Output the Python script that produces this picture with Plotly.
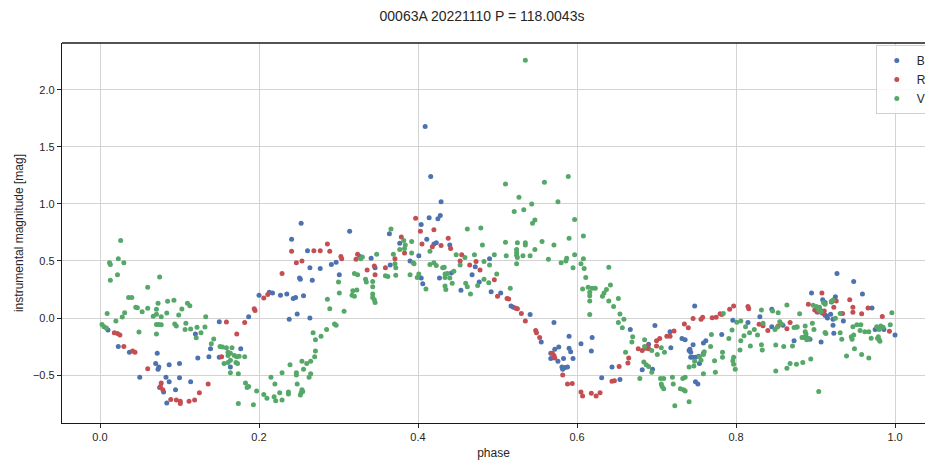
import plotly.graph_objects as go

title_text = "00063A 20221110 P = 118.0043s"
x_label = "phase"
y_label = "instrumental magnitude [mag]"
series_names = ["B", "R", "V"]
series_colors = ["#4C72B0", "#C44E52", "#55A868"]
x_ticks = [0.0, 0.2, 0.4, 0.6, 0.8, 1.0]
y_ticks = [-0.5, 0.0, 0.5, 1.0, 1.5, 2.0]

b_phase = [0.150, 0.010, 0.120, 0.023, 0.037, 0.072, 0.123, 0.137, 0.139, 0.150, 0.070, 0.073, 0.074, 0.087, 0.100,
           0.050, 0.083, 0.087, 0.100, 0.114, 0.075, 0.080, 0.095, 0.084,
           0.253, 0.241, 0.261, 0.314, 0.264, 0.277, 0.291, 0.297, 0.251, 0.252, 0.267, 0.301, 0.200, 0.213, 0.217,
           0.227, 0.235, 0.243, 0.246, 0.256, 0.187, 0.238, 0.248, 0.264, 0.177, 0.164, 0.327,
           0.409, 0.416, 0.429, 0.428, 0.425, 0.414, 0.404, 0.411, 0.420, 0.423, 0.440, 0.364, 0.377, 0.390, 0.401,
           0.365, 0.341, 0.346, 0.404, 0.406, 0.427, 0.442, 0.468, 0.454, 0.472, 0.477, 0.490, 0.492,
           0.504, 0.517, 0.520, 0.541, 0.571, 0.590, 0.555, 0.567, 0.572, 0.577, 0.567, 0.576, 0.583, 0.590, 0.592,
           0.595, 0.581, 0.585, 0.588, 0.582, 0.605, 0.618, 0.619, 0.631, 0.644, 0.654, 0.667,
           0.748, 0.796, 0.815, 0.830, 0.698, 0.717, 0.732, 0.736, 0.746, 0.742, 0.741, 0.743, 0.759, 0.762, 0.782,
           0.718, 0.690, 0.682, 0.695, 0.743, 0.746, 0.749, 0.753, 0.759, 0.754, 0.749, 0.752,
           0.927, 0.948, 0.959, 0.895, 0.909, 0.912, 0.925, 0.923, 0.920, 0.902, 0.906, 0.908, 0.912, 0.914, 0.915,
           0.919, 0.922, 0.935, 0.922, 0.923, 0.845, 0.845, 0.859, 0.873, 0.893, 0.907, 0.971, 0.975, 0.986, 1.000]
b_mag = [-0.032, -0.105, -0.14, -0.25, -0.30, -0.31, -0.35, -0.34, -0.27, -0.345, -0.40, -0.45, -0.43, -0.41, -0.40,
         -0.52, -0.52, -0.56, -0.525, -0.56, -0.61, -0.65, -0.63, -0.745,
         0.83, 0.69, 0.59, 0.76, 0.44, 0.435, 0.47, 0.49, 0.35, 0.34, 0.33, 0.38, 0.20, 0.225, 0.22,
         0.20, 0.21, 0.17, 0.18, 0.195, 0.01, -0.01, 0.035, 0.0, -0.27, -0.43, 0.54,
         1.68, 1.24, 1.02, 0.90, 0.87, 0.88, 0.82, 0.69, 0.65, 0.66, 0.64, 0.74, 0.655, 0.50, 0.545,
         0.465, 0.525, 0.44, 0.35, 0.30, 0.35, 0.395, 0.38, 0.243, 0.45, 0.315, 0.52, 0.23,
         0.22, 0.105, 0.094, 0.03, -0.04, -0.16, -0.21, -0.31, -0.275, -0.255, -0.355, -0.38, -0.355, -0.265, -0.295,
         -0.355, -0.43, -0.435, -0.43, -0.45, -0.225, -0.29, -0.17, -0.525, -0.43, -0.54, -0.10,
         0.105, -0.02, -0.04, 0.01, -0.065, -0.12, -0.18, -0.19, -0.235, -0.275, -0.285, -0.30, -0.22, -0.20, -0.145,
         -0.26, -0.23, -0.455, -0.45, -0.345, -0.345, -0.345, -0.335, -0.31, -0.40, -0.56, -0.58,
         0.39, 0.32, 0.21, 0.22, 0.16, 0.135, 0.187, 0.16, 0.14, 0.053, 0.07, 0.046, 0.024, 0.018, 0.0,
         0.032, -0.012, -0.026, -0.064, -0.134, 0.076, -0.076, -0.064, -0.20, -0.187, -0.21, 0.088, -0.10, -0.10, -0.15]

r_phase = [0.018, 0.022, 0.025, 0.030, 0.041, 0.044, 0.060, 0.077, 0.076, 0.079, 0.089, 0.096, 0.101, 0.101, 0.112,
           0.119, 0.125, 0.136, 0.159, 0.153,
           0.286, 0.241, 0.269, 0.277, 0.289, 0.247, 0.254, 0.303, 0.304, 0.322, 0.324, 0.229, 0.206, 0.211, 0.194,
           0.195, 0.182, 0.172,
           0.397, 0.403, 0.420, 0.379, 0.405, 0.418, 0.429, 0.438, 0.441, 0.383, 0.371, 0.345, 0.359, 0.336, 0.346,
           0.455, 0.453, 0.465, 0.473, 0.478, 0.496, 0.500,
           0.512, 0.514, 0.523, 0.525, 0.530, 0.535, 0.548, 0.549, 0.553, 0.569, 0.571, 0.572, 0.582, 0.588, 0.594,
           0.605, 0.607, 0.618, 0.624, 0.629, 0.644, 0.647, 0.653, 0.664, 0.665,
           0.746, 0.756, 0.758, 0.770, 0.775, 0.780, 0.782, 0.792, 0.797, 0.815, 0.816, 0.829, 0.834, 0.840, 0.735,
           0.740, 0.722, 0.717, 0.713, 0.704, 0.700, 0.700, 0.677, 0.682, 0.686, 0.689, 0.690,
           0.908, 0.891, 0.899, 0.901, 0.903, 0.911, 0.910, 0.926, 0.923, 0.943, 0.947, 0.947, 0.958, 0.966, 0.984,
           0.993, 0.934, 0.868, 0.876, 0.864, 0.853]
r_mag = [-0.129, -0.135, -0.15, -0.25, -0.29, -0.30, -0.445, -0.57, -0.60, -0.63, -0.715, -0.72, -0.73, -0.75, -0.73,
         -0.72, -0.655, -0.58, -0.035, -0.34,
         0.65, 0.585, 0.59, 0.59, 0.585, 0.485, 0.50, 0.54, 0.52, 0.515, 0.56, 0.39, 0.175, 0.205, 0.08,
         0.065, -0.04, -0.14,
         0.875, 0.76, 0.775, 0.71, 0.65, 0.625, 0.635, 0.70, 0.61, 0.57, 0.52, 0.455, 0.44, 0.42, 0.38,
         0.555, 0.50, 0.465, 0.495, 0.42, 0.335, 0.19,
         0.17, 0.167, 0.085, 0.08, 0.04, -0.026, -0.11, -0.13, -0.17, -0.31, -0.33, -0.35, -0.50, -0.58, -0.575,
         -0.65, -0.685, -0.66, -0.685, -0.655, -0.555, -0.55, -0.425, -0.395, -0.35,
         -0.005, -0.01, 0.006, 0.003, 0.006, 0.038, 0.03, 0.076, 0.105, 0.10, 0.08, -0.055, -0.067, -0.11, -0.053,
         -0.085, -0.115, -0.16, -0.16, -0.18, -0.20, -0.245, -0.27, -0.285, -0.265, -0.25, -0.27,
         0.22, 0.12, 0.07, 0.082, 0.053, 0.061, 0.04, 0.15, 0.094, 0.16, 0.094, 0.05, 0.038, 0.088, 0.014,
         -0.117, 0.04, -0.04, -0.08, -0.094, -0.07]

v_phase = [0.026, 0.023, 0.012, 0.013, 0.030, 0.022, 0.013, 0.075, 0.060, 0.036, 0.040, 0.045, 0.047, 0.053, 0.060,
           0.071, 0.073, 0.085, 0.093, 0.103, 0.110, 0.113, 0.009, 0.020, 0.028, 0.031, 0.067, 0.071, 0.077, 0.084,
           0.099, 0.133, 0.0025, 0.005, 0.008, 0.049, 0.071, 0.074, 0.077, 0.071, 0.094, 0.096, 0.108, 0.107, 0.114,
           0.122, 0.127, 0.132, 0.121, 0.143, 0.140,
           0.151, 0.154, 0.159, 0.166, 0.161, 0.161, 0.164, 0.169, 0.172, 0.175, 0.182, 0.156, 0.164, 0.161, 0.171,
           0.173, 0.164, 0.174,
           0.320, 0.324, 0.300, 0.318, 0.323, 0.317, 0.320, 0.301, 0.286, 0.289, 0.307, 0.295, 0.297, 0.285, 0.268,
           0.278, 0.271, 0.271, 0.270, 0.265, 0.254, 0.260, 0.256, 0.239, 0.265, 0.263, 0.247, 0.247, 0.229, 0.215,
           0.220, 0.248, 0.254, 0.253, 0.252, 0.255, 0.237, 0.237, 0.226, 0.219, 0.221, 0.229, 0.206, 0.210, 0.197,
           0.183, 0.185, 0.187, 0.174, 0.193,
           0.366, 0.382, 0.384, 0.383, 0.392, 0.377, 0.369, 0.371, 0.392, 0.348, 0.330, 0.328, 0.394, 0.395, 0.372,
           0.359, 0.362, 0.372, 0.334, 0.335, 0.343, 0.343, 0.343, 0.343, 0.345, 0.346, 0.390, 0.401, 0.399, 0.410,
           0.415, 0.415, 0.420, 0.423, 0.431, 0.433, 0.434, 0.437, 0.434, 0.434, 0.435, 0.440, 0.443, 0.445, 0.448,
           0.453, 0.459, 0.462, 0.479, 0.481, 0.471, 0.483, 0.490, 0.483, 0.489, 0.475, 0.460, 0.462, 0.466, 0.496,
           0.499,
           0.535, 0.589, 0.510, 0.559, 0.527, 0.543, 0.576, 0.521, 0.533, 0.547, 0.544, 0.597, 0.590, 0.608, 0.510,
           0.525, 0.535, 0.535, 0.556, 0.571, 0.547, 0.524, 0.524, 0.524, 0.525, 0.524, 0.511, 0.532, 0.541, 0.564,
           0.580, 0.586, 0.587, 0.597, 0.595, 0.605, 0.608, 0.609, 0.611, 0.640, 0.607, 0.614, 0.619, 0.623, 0.616,
           0.616, 0.616, 0.642, 0.637, 0.634, 0.632, 0.640, 0.652, 0.646, 0.616, 0.654, 0.659, 0.652, 0.657, 0.670,
           0.669, 0.661, 0.516,
           0.685, 0.685, 0.694, 0.701, 0.710, 0.706, 0.684, 0.687, 0.690, 0.694, 0.679, 0.705, 0.709, 0.706, 0.707,
           0.709, 0.720, 0.721, 0.730, 0.734, 0.736, 0.733, 0.736, 0.723, 0.741, 0.741, 0.747, 0.748, 0.754, 0.756,
           0.759, 0.760, 0.759, 0.769, 0.768, 0.773, 0.774, 0.783, 0.783, 0.791, 0.795, 0.784, 0.797, 0.796, 0.797,
           0.799, 0.801, 0.806, 0.806, 0.810, 0.805, 0.812, 0.817, 0.823, 0.818, 0.827, 0.832, 0.833, 0.834, 0.832,
           0.904, 0.864, 0.880, 0.846, 0.853, 0.897, 0.901, 0.905, 0.904, 0.907, 0.910, 0.912, 0.920, 0.922, 0.931,
           0.925, 0.996, 0.855, 0.857, 0.849, 0.852, 0.873, 0.877, 0.887, 0.896, 0.898, 0.887, 0.888, 0.884, 0.888,
           0.891, 0.883, 0.889, 0.912, 0.913, 0.931, 0.933, 0.947, 0.952, 0.956, 0.962, 0.957, 0.945, 0.946, 0.948,
           0.967, 0.970, 0.977, 0.980, 0.982, 0.985, 0.978, 0.980, 0.981, 0.979, 0.994, 0.850, 0.860, 0.871, 0.939,
           0.949, 0.958, 0.967, 0.868, 0.864, 0.876, 0.884, 0.894, 0.850]
v_mag = [0.68, 0.52, 0.485, 0.47, 0.485, 0.38, 0.33, 0.36, 0.27, 0.18, 0.18, 0.094, 0.09, 0.055, 0.085,
         0.076, 0.13, 0.146, 0.155, 0.079, 0.13, 0.108, 0.04, -0.026, 0.009, 0.047, 0.015, 0.032, 0.011, 0.044,
         0.026, 0.011, -0.058, -0.076, -0.088, -0.123, -0.056, -0.058, -0.059, -0.14, -0.053, -0.07, -0.047, -0.10, -0.097,
         -0.082, -0.129, -0.079, -0.173, -0.184, -0.225,
         -0.25, -0.255, -0.26, -0.26, -0.30, -0.33, -0.31, -0.33, -0.34, -0.335, -0.34, -0.40, -0.37, -0.39, -0.39,
         -0.40, -0.48, -0.49,
         0.39, 0.38, 0.315, 0.24, 0.245, 0.20, 0.19, 0.22, 0.165, 0.08, 0.06, -0.053, -0.064, -0.10, -0.13,
         -0.16, -0.19, -0.29, -0.34, -0.38, -0.38, -0.40, -0.45, -0.41, -0.49, -0.52, -0.48, -0.50, -0.48, -0.52,
         -0.58, -0.58, -0.63, -0.655, -0.675, -0.645, -0.65, -0.667, -0.655, -0.69, -0.725, -0.72, -0.67, -0.705, -0.64,
         -0.57, -0.61, -0.60, -0.75, -0.76,
         0.78, 0.68, 0.64, 0.61, 0.67, 0.60, 0.56, 0.475, 0.57, 0.56, 0.535, 0.52, 0.485, 0.475, 0.44,
         0.37, 0.365, 0.375, 0.34, 0.315, 0.32, 0.275, 0.21, 0.18, 0.16, 0.135, 0.38, 0.385, 0.355, 0.255,
         0.585, 0.47, 0.485, 0.46, 0.44, 0.445, 0.385, 0.39, 0.355, 0.28, 0.25, 0.35, 0.305, 0.41, 0.555,
         0.465, 0.53, 0.78, 0.79, 0.64, 0.555, 0.495, 0.465, 0.34, 0.31, 0.285, 0.305, 0.275, 0.21, 0.555,
         0.385,
         2.26, 1.24, 1.175, 1.19, 1.06, 1.00, 1.02, 0.935, 0.95, 0.86, 0.83, 0.865, 0.70, 0.72, 0.665,
         0.66, 0.66, 0.64, 0.67, 0.64, 0.60, 0.60, 0.575, 0.55, 0.53, 0.475, 0.545, 0.545, 0.545, 0.515,
         0.485, 0.50, 0.525, 0.555, 0.44, 0.475, 0.52, 0.435, 0.355, 0.445, 0.255, 0.27, 0.26, 0.26, 0.225,
         0.195, 0.15, 0.29, 0.25, 0.22, 0.19, 0.15, 0.17, 0.10, 0.03, 0.035, -0.01, -0.04, -0.085, -0.165,
         -0.21, -0.30, 0.26,
         -0.19, -0.25, -0.285, -0.32, -0.30, -0.26, -0.385, -0.41, -0.425, -0.475, -0.53, -0.53, -0.53, -0.58, -0.60,
         -0.62, -0.52, -0.58, -0.62, -0.63, -0.64, -0.53, -0.52, -0.77, -0.735, -0.43, -0.42, -0.38, -0.34, -0.37,
         -0.32, -0.295, -0.49, -0.145, -0.25, -0.375, -0.475, -0.30, -0.345, -0.18, -0.105, 0.04, -0.345, -0.375, -0.405,
         -0.45, -0.038, -0.026, -0.20, -0.155, -0.28, -0.076, -0.13, -0.10, -0.245, -0.15, -0.235, -0.28, -0.047, 0.07,
         -0.645, 0.114, 0.038, 0.061, 0.047, 0.111, 0.10, 0.094, 0.07, 0.055, 0.134, 0.12, 0.147, 0.155, 0.04,
         -0.003, 0.047, -0.032, -0.053, -0.10, -0.08, -0.083, -0.08, -0.07, -0.047, -0.10, -0.12, -0.14, -0.17, -0.17,
         -0.178, -0.172, -0.19, -0.128, -0.135, -0.13, -0.187, -0.076, -0.06, -0.11, -0.12, -0.06, -0.164, -0.187, -0.15,
         -0.12, -0.178, -0.076, -0.10, -0.07, -0.082, -0.178, -0.19, -0.205, -0.164, -0.06, -0.237, -0.25, -0.246, -0.334,
         -0.27, -0.32, -0.35, -0.40, -0.44, -0.406, -0.39, -0.36, -0.465]

FONT = "Liberation Sans, Arial, sans-serif"
TXT = "#262626"

fig = go.Figure()
for name, color, xs, ys in zip(series_names, series_colors,
                               [b_phase, r_phase, v_phase], [b_mag, r_mag, v_mag]):
    fig.add_trace(go.Scatter(x=xs, y=ys, mode="markers", name=name,
                             marker=dict(color=color, size=5, line=dict(width=0))))

axis_common = dict(
    showgrid=True, gridcolor="#d3d3d3", gridwidth=1,
    showline=True, linecolor="#1a1a1a", linewidth=1.3,
    ticks="outside", ticklen=4, tickwidth=1, tickcolor=TXT,
    tickfont=dict(family=FONT, size=11, color=TXT),
    zeroline=False, tickformat=".1f",
)

fig.update_xaxes(range=[-0.0478, 1.0377], tickvals=x_ticks,
                 title=dict(text=x_label, font=dict(family=FONT, size=12, color=TXT), standoff=6),
                 **axis_common)
fig.update_yaxes(range=[-0.921, 2.412], tickvals=y_ticks,
                 title=dict(text=y_label, font=dict(family=FONT, size=12, color=TXT), standoff=6),
                 **axis_common)

fig.add_shape(type="line", xref="paper", yref="paper", x0=0, x1=1, y0=1, y1=1,
              line=dict(color="#1a1a1a", width=1.3))

fig.update_layout(
    width=925, height=464,
    margin=dict(l=62, r=0, t=43, b=41, autoexpand=False),
    paper_bgcolor="white", plot_bgcolor="white",
    title=dict(text=title_text, x=482 / 925, xanchor="center", y=1 - 16 / 464, yanchor="middle",
               font=dict(family=FONT, size=14, color=TXT)),
    legend=dict(x=0.943, y=0.995, xanchor="left", yanchor="top",
                bgcolor="rgba(255,255,255,0.85)", bordercolor="#d0d0d0", borderwidth=1,
                font=dict(family=FONT, size=12, color=TXT), tracegroupgap=0),
    showlegend=True,
)

fig.write_html("out.html")
